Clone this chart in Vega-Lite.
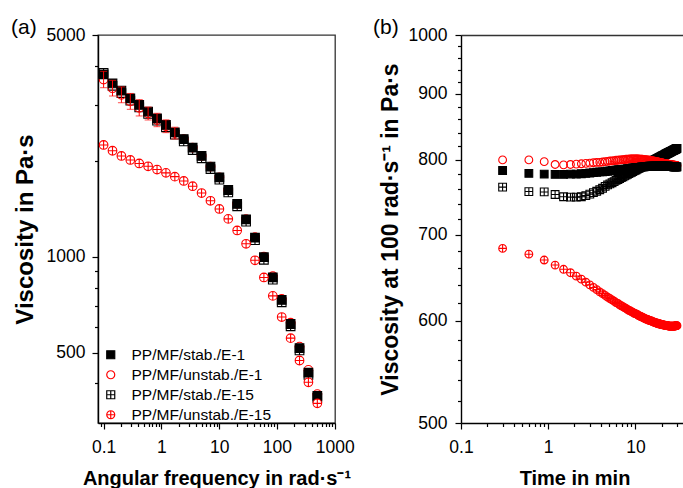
{
"$schema": "https://vega.github.io/schema/vega-lite/v6.json",
"padding": {"left": 10, "top": 16, "right": 0, "bottom": 0},
"background": "white",
"config": {
 "font": "Liberation Sans",
 "view": {"stroke": "#333333", "strokeWidth": 1.3},
 "axis": {"domainColor": "#000000", "domainWidth": 1.4, "tickColor": "#000000", "tickWidth": 1.2, "labelColor": "#000000", "titleColor": "#000000", "labelFont": "Liberation Sans", "titleFont": "Liberation Sans", "labelFontSize": 17.5, "titleFontSize": 20, "titleFontWeight": "bold", "labelFontWeight": "normal", "grid": false, "labelFlush": false, "labelOverlap": false, "labelBound": false},
 "legend": {"labelFont": "Liberation Sans", "labelFontSize": 15.5, "labelColor": "#000000", "symbolSize": 64, "symbolStrokeWidth": 1.2, "padding": 0, "rowPadding": 3, "labelOffset": 13},
 "title": {"font": "Liberation Sans", "fontWeight": "normal", "fontSize": 21, "color": "#000000"}
},
"datasets": {
 "fa": [
{"s":"p1","w":0.1,"v":3800},{"s":"p1","w":0.1426,"v":3460},{"s":"p1","w":0.2033,"v":3283},{"s":"p1","w":0.2899,"v":3106},{"s":"p1","w":0.4135,"v":2959},{"s":"p1","w":0.5895,"v":2821},{"s":"p1","w":0.8407,"v":2687},{"s":"p1","w":1.199,"v":2560},{"s":"p1","w":1.709,"v":2428},{"s":"p1","w":2.437,"v":2312},{"s":"p1","w":3.475,"v":2171},{"s":"p1","w":4.956,"v":2045},{"s":"p1","w":7.068,"v":1892},{"s":"p1","w":10.08,"v":1752},{"s":"p1","w":14.37,"v":1597},{"s":"p1","w":20.49,"v":1444},{"s":"p1","w":29.22,"v":1292},{"s":"p1","w":41.66,"v":1130},{"s":"p1","w":59.41,"v":980},{"s":"p1","w":84.72,"v":848},{"s":"p1","w":120.8,"v":720},{"s":"p1","w":172.3,"v":605},{"s":"p1","w":245.6,"v":508},{"s":"p1","w":350.3,"v":425},{"s":"p1","w":499.5,"v":360},
{"s":"p2","w":0.1,"v":3620,"lo":3412,"hi":3841},{"s":"p2","w":0.1426,"v":3400,"lo":3213,"hi":3598},{"s":"p2","w":0.2033,"v":3240,"lo":3060,"hi":3431},{"s":"p2","w":0.2899,"v":3090,"lo":2917,"hi":3273},{"s":"p2","w":0.4135,"v":2950,"lo":2780,"hi":3130},{"s":"p2","w":0.5895,"v":2830,"lo":2700,"hi":2966},{"s":"p2","w":0.8407,"v":2700,"lo":2572,"hi":2834},{"s":"p2","w":1.199,"v":2580,"lo":2463,"hi":2703},{"s":"p2","w":1.709,"v":2455,"lo":2352,"hi":2562},{"s":"p2","w":2.437,"v":2350},{"s":"p2","w":3.475,"v":2210},{"s":"p2","w":4.956,"v":2080},{"s":"p2","w":7.068,"v":1925},{"s":"p2","w":10.08,"v":1782},{"s":"p2","w":14.37,"v":1625},{"s":"p2","w":20.49,"v":1470},{"s":"p2","w":29.22,"v":1316},{"s":"p2","w":41.66,"v":1155},{"s":"p2","w":59.41,"v":1003},{"s":"p2","w":84.72,"v":870},{"s":"p2","w":120.8,"v":738},{"s":"p2","w":172.3,"v":621},{"s":"p2","w":245.6,"v":522},{"s":"p2","w":350.3,"v":441},{"s":"p2","w":499.5,"v":370},
{"s":"p3","w":0.1,"v":3760},{"s":"p3","w":0.1426,"v":3520},{"s":"p3","w":0.2033,"v":3340},{"s":"p3","w":0.2899,"v":3160},{"s":"p3","w":0.4135,"v":3010},{"s":"p3","w":0.5895,"v":2870},{"s":"p3","w":0.8407,"v":2733},{"s":"p3","w":1.199,"v":2604},{"s":"p3","w":1.709,"v":2470},{"s":"p3","w":2.437,"v":2352},{"s":"p3","w":3.475,"v":2209},{"s":"p3","w":4.956,"v":2080},{"s":"p3","w":7.068,"v":1925},{"s":"p3","w":10.08,"v":1782},{"s":"p3","w":14.37,"v":1625},{"s":"p3","w":20.49,"v":1469},{"s":"p3","w":29.22,"v":1314},{"s":"p3","w":41.66,"v":1150},{"s":"p3","w":59.41,"v":998},{"s":"p3","w":84.72,"v":863},{"s":"p3","w":120.8,"v":732},{"s":"p3","w":172.3,"v":615},{"s":"p3","w":245.6,"v":516},{"s":"p3","w":350.3,"v":432},{"s":"p3","w":499.5,"v":365},
{"s":"p4","w":0.1,"v":2253},{"s":"p4","w":0.1426,"v":2160},{"s":"p4","w":0.2033,"v":2080},{"s":"p4","w":0.2899,"v":2020},{"s":"p4","w":0.4135,"v":1970},{"s":"p4","w":0.5895,"v":1930},{"s":"p4","w":0.8407,"v":1885},{"s":"p4","w":1.199,"v":1840},{"s":"p4","w":1.709,"v":1790},{"s":"p4","w":2.437,"v":1735},{"s":"p4","w":3.475,"v":1670},{"s":"p4","w":4.956,"v":1590},{"s":"p4","w":7.068,"v":1503},{"s":"p4","w":10.08,"v":1416},{"s":"p4","w":14.37,"v":1318},{"s":"p4","w":20.49,"v":1212},{"s":"p4","w":29.22,"v":1100},{"s":"p4","w":41.66,"v":976},{"s":"p4","w":59.41,"v":862},{"s":"p4","w":84.72,"v":754},{"s":"p4","w":120.8,"v":647},{"s":"p4","w":172.3,"v":555},{"s":"p4","w":245.6,"v":472},{"s":"p4","w":350.3,"v":403},{"s":"p4","w":499.5,"v":346}
 ],
 "fb": [
{"s":"p1","t":0.3,"v":762},{"s":"p1","t":0.6,"v":756},{"s":"p1","t":0.9,"v":755.5},{"s":"p1","t":1.2,"v":752},{"s":"p1","t":1.5,"v":749},{"s":"p1","t":1.8,"v":748.5},{"s":"p1","t":2.1,"v":748.5},{"s":"p1","t":2.4,"v":749},{"s":"p1","t":2.7,"v":750.5},{"s":"p1","t":3,"v":752.5},
{"s":"p1","t":3.3,"v":754.5},{"s":"p1","t":3.6,"v":756.5},{"s":"p1","t":3.9,"v":758.5},{"s":"p1","t":4.2,"v":760.5},{"s":"p1","t":4.5,"v":763},{"s":"p1","t":4.8,"v":765},{"s":"p1","t":5.1,"v":766.5},{"s":"p1","t":5.4,"v":768},{"s":"p1","t":5.7,"v":769.5},{"s":"p1","t":6,"v":771.5},
{"s":"p1","t":6.3,"v":772.5},{"s":"p1","t":6.6,"v":773.8},{"s":"p1","t":6.9,"v":775.1},{"s":"p1","t":7.2,"v":776.3},{"s":"p1","t":7.5,"v":777.4},{"s":"p1","t":7.8,"v":778.6},{"s":"p1","t":8.1,"v":779.6},{"s":"p1","t":8.4,"v":780.6},{"s":"p1","t":8.7,"v":781.6},{"s":"p1","t":9,"v":782.6},
{"s":"p1","t":9.3,"v":783.5},{"s":"p1","t":9.6,"v":784.4},{"s":"p1","t":9.9,"v":785.3},{"s":"p1","t":10.2,"v":786.1},{"s":"p1","t":10.5,"v":786.9},{"s":"p1","t":10.8,"v":787.7},{"s":"p1","t":11.1,"v":788.5},{"s":"p1","t":11.4,"v":789.3},{"s":"p1","t":11.7,"v":790},{"s":"p1","t":12,"v":790.7},
{"s":"p1","t":12.3,"v":791.4},{"s":"p1","t":12.6,"v":792.1},{"s":"p1","t":12.9,"v":792.8},{"s":"p1","t":13.2,"v":793.4},{"s":"p1","t":13.5,"v":794},{"s":"p1","t":13.8,"v":794.7},{"s":"p1","t":14.1,"v":795.3},{"s":"p1","t":14.4,"v":795.9},{"s":"p1","t":14.7,"v":796.4},{"s":"p1","t":15,"v":797},
{"s":"p1","t":15.3,"v":797.6},{"s":"p1","t":15.6,"v":798.1},{"s":"p1","t":15.9,"v":798.7},{"s":"p1","t":16.2,"v":799.2},{"s":"p1","t":16.5,"v":799.7},{"s":"p1","t":16.8,"v":800.2},{"s":"p1","t":17.1,"v":800.7},{"s":"p1","t":17.4,"v":801.2},{"s":"p1","t":17.7,"v":801.7},{"s":"p1","t":18,"v":802.2},
{"s":"p1","t":18.3,"v":802.6},{"s":"p1","t":18.6,"v":803.1},{"s":"p1","t":18.9,"v":803.5},{"s":"p1","t":19.2,"v":804},{"s":"p1","t":19.5,"v":804.4},{"s":"p1","t":19.8,"v":804.9},{"s":"p1","t":20.1,"v":805.3},{"s":"p1","t":20.4,"v":805.7},{"s":"p1","t":20.7,"v":806.1},{"s":"p1","t":21,"v":806.5},
{"s":"p1","t":21.3,"v":806.9},{"s":"p1","t":21.6,"v":807.3},{"s":"p1","t":21.9,"v":807.7},{"s":"p1","t":22.2,"v":808.1},{"s":"p1","t":22.5,"v":808.5},{"s":"p1","t":22.8,"v":808.8},{"s":"p1","t":23.1,"v":809.2},{"s":"p1","t":23.4,"v":809.6},{"s":"p1","t":23.7,"v":809.9},{"s":"p1","t":24,"v":810.3},
{"s":"p1","t":24.3,"v":810.6},{"s":"p1","t":24.6,"v":811},{"s":"p1","t":24.9,"v":811.3},{"s":"p1","t":25.2,"v":811.7},{"s":"p1","t":25.5,"v":812},{"s":"p1","t":25.8,"v":812.3},{"s":"p1","t":26.1,"v":812.7},{"s":"p1","t":26.4,"v":813},{"s":"p1","t":26.7,"v":813.3},{"s":"p1","t":27,"v":813.6},
{"s":"p1","t":27.3,"v":813.9},{"s":"p1","t":27.6,"v":814.2},{"s":"p1","t":27.9,"v":814.5},{"s":"p1","t":28.2,"v":814.8},{"s":"p1","t":28.5,"v":815.1},{"s":"p1","t":28.8,"v":815.4},{"s":"p1","t":29.1,"v":815.7},{"s":"p1","t":29.4,"v":816},{"s":"p1","t":29.7,"v":816.3},{"s":"p1","t":30,"v":816.6},
{"s":"p2","t":0.3,"v":800},{"s":"p2","t":0.6,"v":800},{"s":"p2","t":0.9,"v":797.5},{"s":"p2","t":1.2,"v":793.5},{"s":"p2","t":1.5,"v":793},{"s":"p2","t":1.8,"v":793.5},{"s":"p2","t":2.1,"v":794},{"s":"p2","t":2.4,"v":794.5},{"s":"p2","t":2.7,"v":795},{"s":"p2","t":3,"v":795.5},
{"s":"p2","t":3.3,"v":796},{"s":"p2","t":3.6,"v":796.5},{"s":"p2","t":3.9,"v":796.5},{"s":"p2","t":4.2,"v":797},{"s":"p2","t":4.5,"v":797.5},{"s":"p2","t":4.8,"v":798},{"s":"p2","t":5.1,"v":798.5},{"s":"p2","t":5.4,"v":798.5},{"s":"p2","t":5.7,"v":799},{"s":"p2","t":6,"v":799.5},
{"s":"p2","t":6.3,"v":799.5},{"s":"p2","t":6.6,"v":800},{"s":"p2","t":6.9,"v":800},{"s":"p2","t":7.2,"v":800.5},{"s":"p2","t":7.5,"v":800.5},{"s":"p2","t":7.8,"v":801},{"s":"p2","t":8.1,"v":801},{"s":"p2","t":8.4,"v":801},{"s":"p2","t":8.7,"v":801.5},{"s":"p2","t":9,"v":801.5},
{"s":"p2","t":9.3,"v":801.5},{"s":"p2","t":9.6,"v":801.5},{"s":"p2","t":9.9,"v":801.5},{"s":"p2","t":10.2,"v":801.5},{"s":"p2","t":10.5,"v":801.5},{"s":"p2","t":10.8,"v":801.5},{"s":"p2","t":11.1,"v":801},{"s":"p2","t":11.4,"v":801},{"s":"p2","t":11.7,"v":801},{"s":"p2","t":12,"v":801},
{"s":"p2","t":12.3,"v":800.5},{"s":"p2","t":12.6,"v":800.5},{"s":"p2","t":12.9,"v":800.5},{"s":"p2","t":13.2,"v":800},{"s":"p2","t":13.5,"v":800},{"s":"p2","t":13.8,"v":800},{"s":"p2","t":14.1,"v":799.5},{"s":"p2","t":14.4,"v":799.5},{"s":"p2","t":14.7,"v":799.5},{"s":"p2","t":15,"v":799},
{"s":"p2","t":15.3,"v":799},{"s":"p2","t":15.6,"v":798.5},{"s":"p2","t":15.9,"v":798.5},{"s":"p2","t":16.2,"v":798.5},{"s":"p2","t":16.5,"v":798},{"s":"p2","t":16.8,"v":798},{"s":"p2","t":17.1,"v":797.5},{"s":"p2","t":17.4,"v":797.5},{"s":"p2","t":17.7,"v":797.5},{"s":"p2","t":18,"v":797},
{"s":"p2","t":18.3,"v":797},{"s":"p2","t":18.6,"v":796.5},{"s":"p2","t":18.9,"v":796.5},{"s":"p2","t":19.2,"v":796.5},{"s":"p2","t":19.5,"v":796},{"s":"p2","t":19.8,"v":796},{"s":"p2","t":20.1,"v":796},{"s":"p2","t":20.4,"v":795.5},{"s":"p2","t":20.7,"v":795.5},{"s":"p2","t":21,"v":795.5},
{"s":"p2","t":21.3,"v":795},{"s":"p2","t":21.6,"v":795},{"s":"p2","t":21.9,"v":795},{"s":"p2","t":22.2,"v":795},{"s":"p2","t":22.5,"v":794.5},{"s":"p2","t":22.8,"v":794.5},{"s":"p2","t":23.1,"v":794.5},{"s":"p2","t":23.4,"v":794},{"s":"p2","t":23.7,"v":794},{"s":"p2","t":24,"v":794},
{"s":"p2","t":24.3,"v":794},{"s":"p2","t":24.6,"v":793.5},{"s":"p2","t":24.9,"v":793.5},{"s":"p2","t":25.2,"v":793.5},{"s":"p2","t":25.5,"v":793.5},{"s":"p2","t":25.8,"v":793},{"s":"p2","t":26.1,"v":793},{"s":"p2","t":26.4,"v":793},{"s":"p2","t":26.7,"v":793},{"s":"p2","t":27,"v":793},
{"s":"p2","t":27.3,"v":792.5},{"s":"p2","t":27.6,"v":792.5},{"s":"p2","t":27.9,"v":792.5},{"s":"p2","t":28.2,"v":792.5},{"s":"p2","t":28.5,"v":792.5},{"s":"p2","t":28.8,"v":792},{"s":"p2","t":29.1,"v":792},{"s":"p2","t":29.4,"v":792},{"s":"p2","t":29.7,"v":792},{"s":"p2","t":30,"v":792},
{"s":"p3","t":0.3,"v":785},{"s":"p3","t":0.6,"v":781},{"s":"p3","t":0.9,"v":780},{"s":"p3","t":1.2,"v":779.5},{"s":"p3","t":1.5,"v":779.5},{"s":"p3","t":1.8,"v":780},{"s":"p3","t":2.1,"v":780},{"s":"p3","t":2.4,"v":780.5},{"s":"p3","t":2.7,"v":781},{"s":"p3","t":3,"v":781.5},
{"s":"p3","t":3.3,"v":782},{"s":"p3","t":3.6,"v":782.5},{"s":"p3","t":3.9,"v":783},{"s":"p3","t":4.2,"v":783},{"s":"p3","t":4.5,"v":783.5},{"s":"p3","t":4.8,"v":784},{"s":"p3","t":5.1,"v":784.5},{"s":"p3","t":5.4,"v":785},{"s":"p3","t":5.7,"v":785},{"s":"p3","t":6,"v":785.5},
{"s":"p3","t":6.3,"v":786},{"s":"p3","t":6.6,"v":786},{"s":"p3","t":6.9,"v":786.5},{"s":"p3","t":7.2,"v":786.5},{"s":"p3","t":7.5,"v":787},{"s":"p3","t":7.8,"v":787},{"s":"p3","t":8.1,"v":787.5},{"s":"p3","t":8.4,"v":787.5},{"s":"p3","t":8.7,"v":788},{"s":"p3","t":9,"v":788},
{"s":"p3","t":9.3,"v":788.5},{"s":"p3","t":9.6,"v":788.5},{"s":"p3","t":9.9,"v":789},{"s":"p3","t":10.2,"v":789},{"s":"p3","t":10.5,"v":789},{"s":"p3","t":10.8,"v":789.5},{"s":"p3","t":11.1,"v":789.5},{"s":"p3","t":11.4,"v":789.5},{"s":"p3","t":11.7,"v":790},{"s":"p3","t":12,"v":790},
{"s":"p3","t":12.3,"v":790},{"s":"p3","t":12.6,"v":790},{"s":"p3","t":12.9,"v":790.5},{"s":"p3","t":13.2,"v":790.5},{"s":"p3","t":13.5,"v":790.5},{"s":"p3","t":13.8,"v":790.5},{"s":"p3","t":14.1,"v":790.5},{"s":"p3","t":14.4,"v":791},{"s":"p3","t":14.7,"v":791},{"s":"p3","t":15,"v":791},
{"s":"p3","t":15.3,"v":791},{"s":"p3","t":15.6,"v":791},{"s":"p3","t":15.9,"v":791},{"s":"p3","t":16.2,"v":791},{"s":"p3","t":16.5,"v":791},{"s":"p3","t":16.8,"v":791},{"s":"p3","t":17.1,"v":791},{"s":"p3","t":17.4,"v":791},{"s":"p3","t":17.7,"v":791},{"s":"p3","t":18,"v":791},
{"s":"p3","t":18.3,"v":791},{"s":"p3","t":18.6,"v":791},{"s":"p3","t":18.9,"v":791},{"s":"p3","t":19.2,"v":791},{"s":"p3","t":19.5,"v":791},{"s":"p3","t":19.8,"v":791},{"s":"p3","t":20.1,"v":791},{"s":"p3","t":20.4,"v":791},{"s":"p3","t":20.7,"v":791},{"s":"p3","t":21,"v":791},
{"s":"p3","t":21.3,"v":791},{"s":"p3","t":21.6,"v":791},{"s":"p3","t":21.9,"v":791},{"s":"p3","t":22.2,"v":791},{"s":"p3","t":22.5,"v":791},{"s":"p3","t":22.8,"v":791},{"s":"p3","t":23.1,"v":791},{"s":"p3","t":23.4,"v":791},{"s":"p3","t":23.7,"v":791},{"s":"p3","t":24,"v":791},
{"s":"p3","t":24.3,"v":790.5},{"s":"p3","t":24.6,"v":790.5},{"s":"p3","t":24.9,"v":790.5},{"s":"p3","t":25.2,"v":790.5},{"s":"p3","t":25.5,"v":790.5},{"s":"p3","t":25.8,"v":790.5},{"s":"p3","t":26.1,"v":790.5},{"s":"p3","t":26.4,"v":790.5},{"s":"p3","t":26.7,"v":790.5},{"s":"p3","t":27,"v":790.5},
{"s":"p3","t":27.3,"v":790},{"s":"p3","t":27.6,"v":790},{"s":"p3","t":27.9,"v":790},{"s":"p3","t":28.2,"v":790},{"s":"p3","t":28.5,"v":790},{"s":"p3","t":28.8,"v":790},{"s":"p3","t":29.1,"v":790},{"s":"p3","t":29.4,"v":790},{"s":"p3","t":29.7,"v":790},{"s":"p3","t":30,"v":790},
{"s":"p4","t":0.3,"v":683},{"s":"p4","t":0.6,"v":676},{"s":"p4","t":0.9,"v":669},{"s":"p4","t":1.2,"v":663},{"s":"p4","t":1.5,"v":658},{"s":"p4","t":1.8,"v":654},{"s":"p4","t":2.1,"v":650},{"s":"p4","t":2.4,"v":646.5},{"s":"p4","t":2.7,"v":643},{"s":"p4","t":3,"v":640},
{"s":"p4","t":3.3,"v":637},{"s":"p4","t":3.6,"v":634.5},{"s":"p4","t":3.9,"v":632},{"s":"p4","t":4.2,"v":630},{"s":"p4","t":4.5,"v":628},{"s":"p4","t":4.8,"v":626},{"s":"p4","t":5.1,"v":624.5},{"s":"p4","t":5.4,"v":623},{"s":"p4","t":5.7,"v":621.5},{"s":"p4","t":6,"v":620},
{"s":"p4","t":6.3,"v":619},{"s":"p4","t":6.6,"v":617.5},{"s":"p4","t":6.9,"v":616.5},{"s":"p4","t":7.2,"v":615.5},{"s":"p4","t":7.5,"v":614.5},{"s":"p4","t":7.8,"v":613.5},{"s":"p4","t":8.1,"v":612.5},{"s":"p4","t":8.4,"v":611.5},{"s":"p4","t":8.7,"v":611},{"s":"p4","t":9,"v":610},
{"s":"p4","t":9.3,"v":609.5},{"s":"p4","t":9.6,"v":608.5},{"s":"p4","t":9.9,"v":608},{"s":"p4","t":10.2,"v":607.5},{"s":"p4","t":10.5,"v":607},{"s":"p4","t":10.8,"v":606},{"s":"p4","t":11.1,"v":605.5},{"s":"p4","t":11.4,"v":605},{"s":"p4","t":11.7,"v":604.5},{"s":"p4","t":12,"v":604},
{"s":"p4","t":12.3,"v":603.5},{"s":"p4","t":12.6,"v":603},{"s":"p4","t":12.9,"v":602.5},{"s":"p4","t":13.2,"v":602},{"s":"p4","t":13.5,"v":602},{"s":"p4","t":13.8,"v":601.5},{"s":"p4","t":14.1,"v":601},{"s":"p4","t":14.4,"v":600.5},{"s":"p4","t":14.7,"v":600.5},{"s":"p4","t":15,"v":600},
{"s":"p4","t":15.3,"v":600},{"s":"p4","t":15.6,"v":599.5},{"s":"p4","t":15.9,"v":599},{"s":"p4","t":16.2,"v":599},{"s":"p4","t":16.5,"v":598.5},{"s":"p4","t":16.8,"v":598.5},{"s":"p4","t":17.1,"v":598},{"s":"p4","t":17.4,"v":598},{"s":"p4","t":17.7,"v":597.5},{"s":"p4","t":18,"v":597.5},
{"s":"p4","t":18.3,"v":597},{"s":"p4","t":18.6,"v":597},{"s":"p4","t":18.9,"v":597},{"s":"p4","t":19.2,"v":596.5},{"s":"p4","t":19.5,"v":596.5},{"s":"p4","t":19.8,"v":596},{"s":"p4","t":20.1,"v":596},{"s":"p4","t":20.4,"v":596},{"s":"p4","t":20.7,"v":596},{"s":"p4","t":21,"v":595.5},
{"s":"p4","t":21.3,"v":595.5},{"s":"p4","t":21.6,"v":595.5},{"s":"p4","t":21.9,"v":595.5},{"s":"p4","t":22.2,"v":595},{"s":"p4","t":22.5,"v":595},{"s":"p4","t":22.8,"v":595},{"s":"p4","t":23.1,"v":595},{"s":"p4","t":23.4,"v":595},{"s":"p4","t":23.7,"v":595},{"s":"p4","t":24,"v":594.5},
{"s":"p4","t":24.3,"v":594.5},{"s":"p4","t":24.6,"v":594.5},{"s":"p4","t":24.9,"v":594.5},{"s":"p4","t":25.2,"v":594.5},{"s":"p4","t":25.5,"v":594.5},{"s":"p4","t":25.8,"v":594.5},{"s":"p4","t":26.1,"v":594.5},{"s":"p4","t":26.4,"v":594.5},{"s":"p4","t":26.7,"v":594.5},{"s":"p4","t":27,"v":594.5},
{"s":"p4","t":27.3,"v":594.5},{"s":"p4","t":27.6,"v":594.5},{"s":"p4","t":27.9,"v":594.5},{"s":"p4","t":28.2,"v":594.5},{"s":"p4","t":28.5,"v":594.5},{"s":"p4","t":28.8,"v":595},{"s":"p4","t":29.1,"v":595},{"s":"p4","t":29.4,"v":595},{"s":"p4","t":29.7,"v":595},{"s":"p4","t":30,"v":595}
 ]
},
"spacing": 18,
"resolve": {"scale": {"color": "independent", "shape": "independent", "fill": "independent"}, "legend": {"color": "independent", "shape": "independent", "fill": "independent"}},
"hconcat": [
 {
  "width": 237, "height": 388,
  "data": {"name": "fa"},
  "title": {"text": "(a)", "anchor": "start", "frame": "bounds", "offset": -12, "dx": -2},
  "layer": [
   {
    "mark": {"type": "point", "size": 75, "strokeWidth": 1.1, "opacity": 1, "filled": false},
    "encoding": {
     "x": {"field": "w", "type": "quantitative", "scale": {"type": "log", "domain": [0.08, 1010]}, "axis": {"orient": "bottom", "values": [0.1, 1, 10, 100, 1000], "format": "~g", "tickSize": 6, "labelPadding": 9, "title": "Angular frequency in rad·s⁻¹", "titlePadding": 13}},
     "y": {"field": "v", "type": "quantitative", "scale": {"type": "log", "domain": [300, 5000]}, "axis": {"orient": "left", "values": [500, 1000, 5000], "format": "~g", "tickSize": 6, "labelPadding": 7, "title": "Viscosity in Pa·s", "titleFontSize": 24, "titlePadding": 9}},
     "shape": {"field": "s", "type": "nominal", "scale": {"domain": ["p3", "p2", "p1", "p4"], "range": ["square", "circle", "M-1,-1H1V1H-1Z M0,-1V1 M-1,0H1", "M-1,0A1,1,0,1,1,1,0A1,1,0,1,1,-1,0Z M0,-1V1 M-1,0H1"]}, "legend": {"orient": "none", "legendX": 5, "legendY": 312, "title": null, "labelFontSize": 15.5, "labelFont": "Liberation Sans", "labelOffset": 13, "rowPadding": 3, "labelExpr": "datum.label == 'p3' ? 'PP/MF/stab./E-1' : datum.label == 'p2' ? 'PP/MF/unstab./E-1' : datum.label == 'p1' ? 'PP/MF/stab./E-15' : 'PP/MF/unstab./E-15'"}},
     "color": {"field": "s", "type": "nominal", "scale": {"domain": ["p3", "p2", "p1", "p4"], "range": ["#000000", "#ff0000", "#000000", "#ff0000"]}, "legend": {"orient": "none", "legendX": 5, "legendY": 312, "title": null, "labelFontSize": 15.5, "labelFont": "Liberation Sans", "labelOffset": 13, "rowPadding": 3, "labelExpr": "datum.label == 'p3' ? 'PP/MF/stab./E-1' : datum.label == 'p2' ? 'PP/MF/unstab./E-1' : datum.label == 'p1' ? 'PP/MF/stab./E-15' : 'PP/MF/unstab./E-15'"}},
     "fill": {"field": "s", "type": "nominal", "scale": {"domain": ["p3", "p2", "p1", "p4"], "range": ["#000000", "transparent", "#ffffff", "#ffffff"]}, "legend": {"orient": "none", "legendX": 5, "legendY": 312, "title": null, "labelFontSize": 15.5, "labelFont": "Liberation Sans", "labelOffset": 13, "rowPadding": 3, "labelExpr": "datum.label == 'p3' ? 'PP/MF/stab./E-1' : datum.label == 'p2' ? 'PP/MF/unstab./E-1' : datum.label == 'p1' ? 'PP/MF/stab./E-15' : 'PP/MF/unstab./E-15'"}}
    }
   },
   {
    "transform": [{"filter": "isValid(datum.lo)"}],
    "mark": {"type": "errorbar", "ticks": {"size": 7}, "color": "#ff0000", "thickness": 1},
    "encoding": {
     "x": {"field": "w", "type": "quantitative", "scale": {"type": "log", "domain": [0.08, 1010]}, "axis": null},
     "y": {"field": "lo", "type": "quantitative", "scale": {"type": "log", "domain": [300, 5000]}, "axis": null},
     "y2": {"field": "hi"}
    }
   },
   {
    "mark": {"type": "point", "opacity": 0},
    "encoding": {
     "x": {"field": "w", "type": "quantitative", "scale": {"type": "log", "domain": [0.08, 1010]}, "axis": {"orient": "bottom", "values": [0.09, 0.2, 0.3, 0.4, 0.5, 0.6, 0.7, 0.8, 0.9, 2, 3, 4, 5, 6, 7, 8, 9, 20, 30, 40, 50, 60, 70, 80, 90, 200, 300, 400, 500, 600, 700, 800, 900], "tickSize": 3.5, "labels": false, "domain": false, "title": null}},
     "y": {"field": "v", "type": "quantitative", "scale": {"type": "log", "domain": [300, 5000]}, "axis": {"orient": "left", "values": [400, 600, 700, 800, 900, 2000, 3000, 4000], "tickSize": 3.5, "labels": false, "domain": false, "title": null}}
    }
   }
  ],
  "resolve": {"axis": {"x": "independent", "y": "independent"}}
 },
 {
  "width": 227, "height": 388,
  "view": {"stroke": null},
  "data": {"name": "fb"},
  "title": {"text": "(b)", "anchor": "start", "frame": "bounds", "offset": -12, "dx": -6},
  "layer": [
   {
    "mark": {"type": "point", "size": 60, "strokeWidth": 1.1, "opacity": 1, "filled": false},
    "encoding": {
     "x": {"field": "t", "type": "quantitative", "scale": {"type": "log", "domain": [0.1, 40.1]}, "axis": {"orient": "bottom", "values": [0.1, 1, 10], "format": "~g", "tickSize": 6, "labelPadding": 9, "title": "Time in min", "titlePadding": 13}},
     "y": {"field": "v", "type": "quantitative", "scale": {"type": "log", "domain": [500, 1000]}, "axis": {"orient": "left", "values": [500, 600, 700, 800, 900, 1000], "format": "~g", "tickSize": 6, "labelPadding": 8, "title": "Viscosity at 100 rad·s⁻¹ in Pa·s", "titleFontSize": 23, "titlePadding": 6}},
     "shape": {"field": "s", "type": "nominal", "scale": {"domain": ["p3", "p2", "p1", "p4"], "range": ["square", "circle", "M-1,-1H1V1H-1Z M0,-1V1 M-1,0H1", "M-1,0A1,1,0,1,1,1,0A1,1,0,1,1,-1,0Z M0,-1V1 M-1,0H1"]}, "legend": null},
     "color": {"field": "s", "type": "nominal", "scale": {"domain": ["p3", "p2", "p1", "p4"], "range": ["#000000", "#ff0000", "#000000", "#ff0000"]}, "legend": null},
     "fill": {"field": "s", "type": "nominal", "scale": {"domain": ["p3", "p2", "p1", "p4"], "range": ["#000000", "transparent", "transparent", "transparent"]}, "legend": null}
    }
   },
   {
    "mark": {"type": "point", "opacity": 0},
    "encoding": {
     "x": {"field": "t", "type": "quantitative", "scale": {"type": "log", "domain": [0.1, 40.1]}, "axis": {"orient": "bottom", "values": [0.2, 0.3, 0.4, 0.5, 0.6, 0.7, 0.8, 0.9, 2, 3, 4, 5, 6, 7, 8, 9, 20, 30, 40], "tickSize": 3.5, "labels": false, "domain": false, "title": null}},
     "y": {"field": "v", "type": "quantitative", "scale": {"type": "log", "domain": [500, 1000]}, "axis": {"orient": "left", "values": [520, 540, 560, 580, 620, 640, 660, 680, 720, 740, 760, 780, 820, 840, 860, 880, 920, 940, 960, 980], "tickSize": 3.5, "labels": false, "domain": false, "title": null}}
    }
   },
   {
    "mark": {"type": "point", "opacity": 0},
    "encoding": {
     "x": {"field": "t", "type": "quantitative", "scale": {"type": "log", "domain": [0.1, 40.1]}, "axis": {"orient": "top", "ticks": false, "labels": false, "domain": true, "domainColor": "#333333", "domainWidth": 1.3, "title": null}},
     "y": {"field": "v", "type": "quantitative", "scale": {"type": "log", "domain": [500, 1000]}, "axis": null}
    }
   }
  ],
  "resolve": {"axis": {"x": "independent", "y": "independent"}}
 }
]
}
